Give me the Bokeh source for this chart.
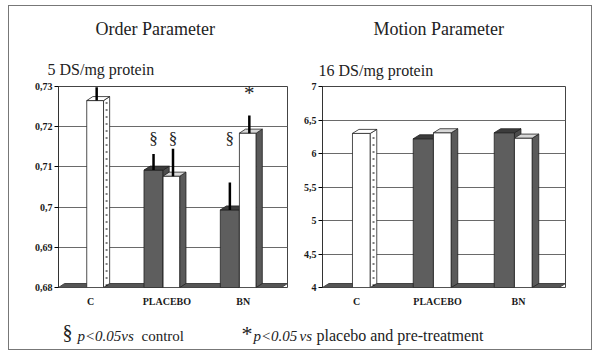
import math
from bokeh.plotting import figure
from bokeh.models import Range1d, FixedTicker, CustomJSTickFormatter
from bokeh.layouts import row, column
from bokeh.embed import file_html
from bokeh.resources import INLINE
from bokeh.core.properties import value

# ---------------- data ----------------
categories = ["C", "PLACEBO", "BN"]

# Order parameter (5 DS/mg protein): pre-treatment (dark) and post-treatment (white)
order_pre = [math.nan, 0.7092, 0.6993]
order_pre_err = [math.nan, 0.0040, 0.0068]
order_post = [0.7265, 0.7077, 0.7184]
order_post_err = [0.0033, 0.0068, 0.0044]
order_ticks = [0.68, 0.69, 0.70, 0.71, 0.72, 0.73]
order_tick_labels = ["0,68", "0,69", "0,7", "0,71", "0,72", "0,73"]

# Motion parameter (16 DS/mg protein)
motion_pre = [math.nan, 6.22, 6.31]
motion_post = [6.30, 6.31, 6.23]
motion_ticks = [4, 4.5, 5, 5.5, 6, 6.5, 7]
motion_tick_labels = ["4", "4,5", "5", "5,5", "6", "6,5", "7"]

# significance marks on the order-parameter panel
sig_text = ["§", "§", "§", "*"]
sig_cat = [1, 1, 2, 2]
sig_series = ["pre", "post", "pre", "post"]
sig_y = [0.7171, 0.7171, 0.7171, 0.7283]

# ---------------- styling ----------------
SERIF = "Liberation Serif"
DX = 0.08
PRE_L, PRE_R = -0.30, -0.05
POST_L, POST_R = -0.05, 0.17
OX, OY = 9, 6            # page position of the content inside the outer box
BASE_SHIFT = 6           # correction for rendered baseline position
HEAD_H = 75
TOP_B = 5
FRAME_H = 201
BOT_B = 30
FIG_H = TOP_B + FRAME_H + BOT_B
FOOT_H = 32
TOTAL_W = 582


def tick_fmt(ticks, labels):
    return CustomJSTickFormatter(args=dict(t=ticks, l=labels), code="""
        let b = 0;
        for (let i = 0; i < t.length; i++) {
            if (Math.abs(t[i] - tick) < Math.abs(t[b] - tick)) b = i;
        }
        return l[b];
    """)


def draw_bar(p, xl, xr, base, v, dy, front, side, top, side_dotted=False):
    p.quad(left=[xl], right=[xr], bottom=[base], top=[v], fill_color=front,
           line_color="#222222", line_width=0.8)
    p.patch([xr, xr + DX, xr + DX, xr], [base, base + dy, v + dy, v],
            fill_color=side, line_color="#222222", line_width=0.8)
    p.patch([xl, xr, xr + DX, xl + DX], [v, v, v + dy, v + dy],
            fill_color=top, line_color="#222222", line_width=0.8)
    if side_dotted:
        p.line([xr + DX / 2, xr + DX / 2], [base + dy / 2, v + dy / 2],
               line_color="black", line_width=2, line_dash="1 6")


def make_panel(pre, pre_err, post, post_err, ticks, tick_labels, width, bl, br):
    y0, y1 = ticks[0], ticks[-1]
    p = figure(width=width, height=FIG_H, x_range=Range1d(0.08, 3.08),
               y_range=Range1d(y0, y1), output_backend="svg", toolbar_location=None,
               min_border_left=bl, min_border_right=br, min_border_top=TOP_B,
               min_border_bottom=BOT_B)
    p.background_fill_color = "white"
    p.border_fill_color = "white"
    p.outline_line_color = "#444444"
    p.outline_line_width = 1
    p.xgrid.grid_line_color = None
    p.ygrid.ticker = FixedTicker(ticks=ticks)
    p.ygrid.grid_line_color = "#6a6a6a"
    p.ygrid.grid_line_width = 1

    p.yaxis.ticker = FixedTicker(ticks=ticks)
    p.yaxis.formatter = tick_fmt(ticks, tick_labels)
    p.yaxis.major_label_text_font = SERIF
    p.yaxis.major_label_text_font_style = "bold"
    p.yaxis.major_label_text_font_size = "10px"
    p.yaxis.major_label_text_color = "#1a1a1a"
    p.yaxis.major_tick_in = 0
    p.yaxis.major_tick_out = 4
    p.yaxis.minor_tick_line_color = None
    p.yaxis.major_label_standoff = 2
    p.yaxis.axis_line_color = "#333333"

    centers = [i + 0.5 for i in range(len(categories))]
    p.xaxis.ticker = FixedTicker(ticks=centers)
    p.xaxis.formatter = tick_fmt(centers, categories)
    p.xaxis.major_label_text_font = SERIF
    p.xaxis.major_label_text_font_style = "bold"
    p.xaxis.major_label_text_font_size = "10px"
    p.xaxis.major_label_text_color = "#1a1a1a"
    p.xaxis.axis_line_color = None
    p.xaxis.major_tick_line_color = None
    p.xaxis.minor_tick_line_color = None
    p.xaxis.major_label_standoff = 2

    dy = (y1 - y0) / FRAME_H * 4
    # floor
    p.patch([0.08, 3.08 - DX, 3.08, 0.08 + DX], [y0, y0, y0 + dy, y0 + dy],
            fill_color="#555555", line_color="#444444")

    for i, c in enumerate(centers):
        control = math.isnan(pre[i])
        if not control:
            draw_bar(p, c + PRE_L, c + PRE_R, y0, pre[i], dy,
                     "#5e5e5e", "#4c4c4c", "#3c3c3c")
        draw_bar(p, c + POST_L, c + POST_R, y0, post[i], dy, "white",
                 "white" if control else "#5a5a5a",
                 "white" if control else "#d8d8d8", side_dotted=control)

    if pre_err is not None:
        for i, c in enumerate(centers):
            if not math.isnan(pre[i]):
                xm = c + (PRE_L + PRE_R) / 2
                p.segment([xm], [pre[i]], [xm], [pre[i] + pre_err[i]],
                          line_color="black", line_width=2.5)
            xm = c + (POST_L + POST_R) / 2 + 0.02
            p.segment([xm], [post[i]], [xm], [post[i] + post_err[i]],
                      line_color="black", line_width=2.5)
    return p


def text_strip(height):
    f = figure(width=TOTAL_W, height=height, x_range=Range1d(0, TOTAL_W),
               y_range=Range1d(height, 0), output_backend="svg",
               toolbar_location=None, x_axis_type=None, y_axis_type=None,
               min_border=0)
    f.outline_line_color = None
    f.grid.grid_line_color = None
    f.background_fill_color = "white"
    f.border_fill_color = "white"
    return f


# -------- header: titles --------
ph = text_strip(HEAD_H)


def head(px, py, txt, size):
    ph.text([px - OX], [py - OY - BASE_SHIFT], text=[txt], text_font=value(SERIF),
            text_font_size=size, text_baseline="alphabetic", text_color="#222222")


head(95, 34, "Order Parameter", "18px")
head(373, 34, "Motion Parameter", "18px")
head(47, 75, "5 DS/mg protein", "16px")
head(318, 76, "16 DS/mg protein", "16px")

# -------- left panel: Order Parameter --------
p1 = make_panel(order_pre, order_pre_err, order_post, order_post_err,
                order_ticks, order_tick_labels, 286, 49, 8)

for t, ci, s, yv in zip(sig_text, sig_cat, sig_series, sig_y):
    c = ci + 0.5
    xm = c + ((PRE_L + PRE_R) / 2 if s == "pre" else (POST_L + POST_R) / 2 + 0.02)
    p1.text([xm], [yv], text=[t], text_align="center", text_baseline="middle",
            text_font=value(SERIF), text_font_size="17px" if t == "§" else "21px",
            text_color="#222222")

# -------- right panel: Motion Parameter --------
p2 = make_panel(motion_pre, None, motion_post, None,
                motion_ticks, motion_tick_labels, 296, 27, 26)

# -------- footnotes --------
pf = text_strip(FOOT_H)
FOOT_TOP = OY + HEAD_H + FIG_H


def foot(px, py, txt, size, style="normal"):
    pf.text([px - OX], [py - FOOT_TOP - BASE_SHIFT], text=[txt],
            text_font=value(SERIF), text_font_size=size, text_font_style=style,
            text_baseline="alphabetic", text_color="#222222")


foot(62, 337, "§", "20px")
foot(77, 341, "p<0.05vs", "15px", "italic")
foot(141, 341, "control", "15px")
foot(241, 339, "*", "22px")
foot(253, 341, "p<0.05", "15px", "italic")
foot(299, 341, "vs", "15px", "italic")
foot(316, 341, "placebo and pre-treatment", "16px")

layout = column(ph, row(p1, p2), pf,
                styles={"margin-left": "8px", "margin-top": "5px",
                        "border": "1px solid #777777"})

open("out.html", "w").write(file_html(layout, INLINE))
